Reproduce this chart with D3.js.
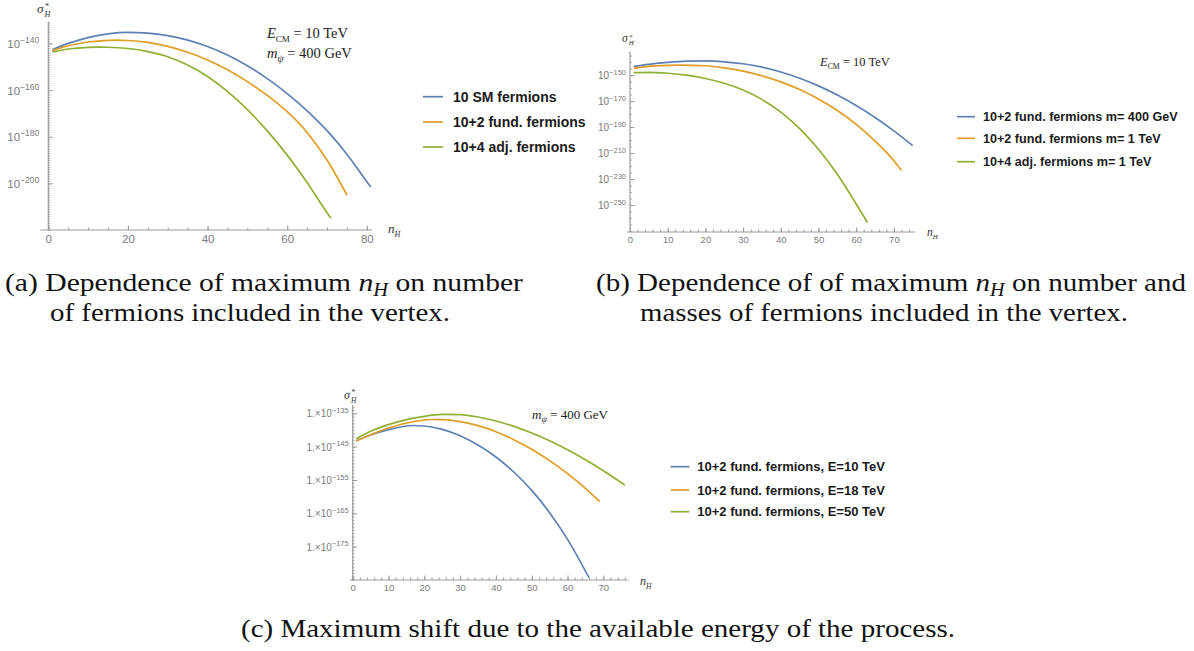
<!DOCTYPE html>
<html><head><meta charset="utf-8">
<script src="https://cdn.jsdelivr.net/npm/d3@7"></script>
<style>body{margin:0;background:#fff}svg{display:block}</style>
</head><body>
<svg id="c" width="1194" height="651"></svg>
<script>
// ---------------- DATA (values are log10 of sigma*_H) ----------------
const seriesColors = ["#5E81B5", "#E19C24", "#8FB032"];

// Panel (a)
const aLegend = ["10 SM fermions", "10+2 fund. fermions", "10+4 adj. fermions"];
const aN_sm   = [1, 5, 10, 15, 20, 25, 30, 35, 40, 45, 50, 55, 60, 65, 70, 75, 80, 81];
const aLog_sm = [-142.7, -140.0, -137.5, -135.9, -135.3, -135.6, -136.7, -138.6, -141.3, -145.0, -149.6, -155.1, -161.5, -168.9, -177.4, -187.5, -199.3, -201.6];
const aN_fund   = [1, 5, 10, 15, 17, 20, 25, 30, 35, 40, 45, 50, 55, 60, 65, 70, 75];
const aLog_fund = [-143.1, -141.0, -139.4, -138.7, -138.6, -138.75, -139.6, -141.3, -143.8, -147.1, -151.3, -156.4, -162.3, -169.3, -178.2, -190.0, -205.0];
const aN_adj   = [1, 5, 10, 13, 15, 20, 25, 30, 35, 40, 45, 50, 55, 60, 65, 70, 71];
const aLog_adj = [-143.7, -142.4, -141.7, -141.6, -141.65, -142.2, -143.5, -145.7, -149.3, -154.2, -160.6, -168.4, -177.5, -187.9, -199.6, -212.6, -215.0];
const aXTicks = [0, 20, 40, 60, 80];
const aYTicks = [-140, -160, -180, -200];

// Panel (b)
const bLegend = ["10+2 fund. fermions m= 400 GeV", "10+2 fund. fermions m= 1 TeV", "10+4 adj. fermions m= 1 TeV"];
const bN_fund400   = [1, 5, 10, 15, 20, 25, 30, 35, 40, 45, 50, 55, 60, 65, 70, 75];
const bLog_fund400 = [-143.3, -141.7, -140.2, -139.3, -139.1, -139.8, -141.3, -143.9, -147.6, -152.4, -158.3, -165.3, -173.4, -182.6, -192.9, -204.3];
const bN_fund1   = [1, 5, 10, 13, 20, 25, 30, 35, 40, 45, 50, 55, 60, 65, 70, 72];
const bLog_fund1 = [-144.9, -143.3, -142.5, -142.3, -142.8, -144.4, -146.9, -150.5, -155.2, -161.1, -168.4, -177.3, -188.0, -200.8, -216.0, -223.5];
const bN_adj1   = [1, 5, 10, 15, 20, 25, 30, 35, 40, 45, 50, 55, 60, 63];
const bLog_adj1 = [-148.1, -147.9, -148.6, -150.1, -152.6, -156.3, -161.5, -168.7, -178.5, -191.2, -207.1, -226.4, -249.2, -263.5];
const bXTicks = [0, 10, 20, 30, 40, 50, 60, 70];
const bYTicks = [-150, -170, -190, -210, -230, -250];

// Panel (c)
const cLegend = ["10+2 fund. fermions, E=10 TeV", "10+2 fund. fermions, E=18 TeV", "10+2 fund. fermions, E=50 TeV"];
const cN_E10   = [1, 5, 10, 15, 17, 20, 25, 30, 35, 40, 45, 50, 55, 60, 66];
const cLog_E10 = [-143.2, -141.5, -139.9, -138.8, -138.65, -138.8, -139.8, -141.7, -144.5, -148.1, -152.6, -158.1, -164.8, -172.8, -184.3];
const cN_E18   = [1, 5, 10, 15, 20, 22, 25, 30, 35, 40, 45, 50, 55, 60, 65, 69];
const cLog_E18 = [-143.3, -141.4, -139.4, -137.9, -137.0, -136.85, -136.9, -137.5, -138.7, -140.5, -142.9, -145.8, -149.2, -153.1, -157.5, -161.5];
const cN_E50   = [1, 5, 10, 15, 20, 25, 30, 35, 40, 45, 50, 55, 60, 65, 70, 76];
const cLog_E50 = [-142.6, -140.4, -138.4, -136.9, -135.9, -135.3, -135.4, -136.1, -137.3, -138.9, -140.9, -143.2, -145.9, -148.9, -152.2, -156.5];
const cXTicks = [0, 10, 20, 30, 40, 50, 60, 70];
const cYTicks = [-135, -145, -155, -165, -175];

// ---------------- DRAWING ----------------
const svg = d3.select("#c");
const SANS = "'Liberation Sans', Arial, sans-serif";
const SERIF = "'Liberation Serif', 'Times New Roman', serif";
const AXIS = "#9a9a9a", LABEL = "#7a7a7a";

function panel(cfg) {
  const g = svg.append("g");
  const x = d3.scaleLinear().domain(cfg.xDomain).range(cfg.xRange);
  const y = d3.scaleLinear().domain(cfg.yDomain).range(cfg.yRange);
  const yBase = cfg.yRange[0], xBase = x(0);

  const xMinor = d3.range(cfg.xDomain[0], cfg.xDomain[1], cfg.xMinorStep);
  g.append("g").attr("transform", `translate(0,${yBase})`)
    .call(d3.axisBottom(x).tickValues(xMinor).tickSize(-2.5).tickSizeOuter(0).tickFormat(""))
    .call(s => { s.select(".domain").remove(); s.selectAll("line").attr("stroke", AXIS); });
  g.append("g").attr("transform", `translate(0,${yBase})`)
    .call(d3.axisBottom(x).tickValues(cfg.xTicks).tickSize(-4.5).tickSizeOuter(0).tickPadding(cfg.xLabPad)
      .tickFormat(d3.format("d")))
    .call(s => {
      s.select(".domain").remove();
      s.selectAll("line").attr("stroke", AXIS);
      s.selectAll("text").attr("fill", LABEL).attr("font-family", SANS).attr("font-size", cfg.xFont);
    });

  const yMinor = d3.range(Math.ceil(cfg.yDomain[0]), cfg.yDomain[1], cfg.yMinorStep);
  g.append("g").attr("transform", `translate(${xBase},0)`)
    .call(d3.axisLeft(y).tickValues(yMinor).tickSize(-2).tickSizeOuter(0).tickFormat(""))
    .call(s => { s.select(".domain").remove(); s.selectAll("line").attr("stroke", AXIS).attr("stroke-width", 0.8); });
  const yAx = g.append("g").attr("transform", `translate(${xBase},0)`)
    .call(d3.axisLeft(y).tickValues(cfg.yTicks).tickSize(-4.5).tickSizeOuter(0).tickPadding(cfg.yLabGap)
      .tickFormat(""))
    .call(s => { s.select(".domain").remove(); s.selectAll("line").attr("stroke", AXIS); });
  yAx.selectAll(".tick text").each(function(d) {
    const t = d3.select(this).attr("fill", LABEL).attr("font-family", SANS)
      .attr("font-size", cfg.yFont).attr("dy", null).attr("y", 0)
      .attr("transform", `translate(0,${cfg.yFont * 0.36})`);
    t.text(null);
    t.append("tspan").text(cfg.yPrefix);
    t.append("tspan").attr("font-size", cfg.ySupFont).attr("dy", -cfg.yFont * 0.45).text("\u2212" + (-d));
  });

  g.append("line").attr("x1", xBase - cfg.xPadLeft).attr("x2", cfg.xRange[1])
    .attr("y1", yBase).attr("y2", yBase).attr("stroke", AXIS).attr("stroke-width", 1.2);
  g.append("line").attr("x1", xBase).attr("x2", xBase)
    .attr("y1", yBase).attr("y2", cfg.yRange[1]).attr("stroke", AXIS).attr("stroke-width", 1.2);

  const line = d3.line().x(d => x(d[0])).y(d => y(d[1])).curve(d3.curveMonotoneX);
  cfg.series.forEach((s, i) => {
    g.append("path").datum(d3.zip(s.n, s.v)).attr("d", line)
      .attr("fill", "none").attr("stroke", seriesColors[i]).attr("stroke-width", 1.7)
      .attr("stroke-linejoin", "round");
  });

  cfg.legend.forEach((lab, i) => {
    const ly = cfg.legY[i];
    g.append("line").attr("x1", cfg.legX).attr("x2", cfg.legX + cfg.legLen)
      .attr("y1", ly).attr("y2", ly).attr("stroke", seriesColors[i]).attr("stroke-width", 1.7);
    g.append("text").attr("x", cfg.legX + cfg.legLen + cfg.legGap).attr("y", ly + cfg.legFont * 0.36)
      .attr("font-family", SANS).attr("font-weight", "bold").attr("font-size", cfg.legFont)
      .attr("fill", "#1a1a1a").text(lab);
  });

  const sx = cfg.sigma[0], sy = cfg.sigma[1];
  g.append("text").attr("x", sx).attr("y", sy).attr("font-family", SERIF).attr("font-style", "italic")
    .attr("font-size", cfg.sigmaFont).attr("fill", "#333").text("σ");
  g.append("text").attr("x", sx + cfg.sigmaFont * 0.62).attr("y", sy - cfg.sigmaFont * 0.3).attr("font-family", SERIF)
    .attr("font-size", cfg.sigmaFont * 0.62).attr("fill", "#333").text("*");
  g.append("text").attr("x", sx + cfg.sigmaFont * 0.58).attr("y", sy + cfg.sigmaFont * 0.3).attr("font-family", SERIF)
    .attr("font-style", "italic").attr("font-size", cfg.sigmaFont * 0.62).attr("fill", "#333").text("H");
  const nx = cfg.nLab[0], ny = cfg.nLab[1];
  g.append("text").attr("x", nx).attr("y", ny).attr("font-family", SERIF).attr("font-style", "italic")
    .attr("font-size", cfg.sigmaFont).attr("fill", "#333").text("n");
  g.append("text").attr("x", nx + cfg.sigmaFont * 0.5).attr("y", ny + cfg.sigmaFont * 0.3).attr("font-family", SERIF)
    .attr("font-style", "italic").attr("font-size", cfg.sigmaFont * 0.62).attr("fill", "#333").text("H");

  cfg.notes.forEach(nt => {
    const t = g.append("text").attr("x", nt.x).attr("y", nt.y).attr("font-family", SERIF)
      .attr("font-size", nt.size).attr("fill", "#222");
    if (nt.kind === "E") {
      t.append("tspan").attr("font-style", "italic").text("E");
      t.append("tspan").attr("font-size", nt.size * 0.62).attr("dy", nt.size * 0.25).text("CM");
      t.append("tspan").attr("dy", -nt.size * 0.25).text(" = 10 TeV");
    } else {
      t.append("tspan").attr("font-style", "italic").text("m");
      t.append("tspan").attr("font-style", "italic").attr("font-size", nt.size * 0.68).attr("dy", nt.size * 0.25).text("ψ");
      t.append("tspan").attr("dy", -nt.size * 0.25).text(" = 400 GeV");
    }
  });
}

panel({
  xDomain: [0, 81.3], xRange: [48.3, 372], yDomain: [-220, -130.7], yRange: [230, 21.7],
  xTicks: aXTicks, xMinorStep: 5, yTicks: aYTicks, yMinorStep: 1,
  xFont: 11.5, xLabPad: 5, yFont: 11.5, ySupFont: 8.5, yLabGap: 9, yPrefix: "10", xPadLeft: 8,
  series: [{n: aN_sm, v: aLog_sm}, {n: aN_fund, v: aLog_fund}, {n: aN_adj, v: aLog_adj}],
  legend: aLegend, legX: 423, legLen: 20, legGap: 10, legY: [96.7, 122, 147], legFont: 14,
  sigma: [37, 13], sigmaFont: 13, nLab: [388, 233],
  notes: [{kind: "E", x: 267, y: 38, size: 14.5}, {kind: "m", x: 267, y: 58, size: 14.5}]
});

panel({
  xDomain: [0, 75.6], xRange: [630, 915], yDomain: [-270.8, -132], yRange: [232, 51.7],
  xTicks: bXTicks, xMinorStep: 2, yTicks: bYTicks, yMinorStep: 5,
  xFont: 9.5, xLabPad: 4, yFont: 10, ySupFont: 7.5, yLabGap: 4, yPrefix: "10", xPadLeft: 3,
  series: [{n: bN_fund400, v: bLog_fund400}, {n: bN_fund1, v: bLog_fund1}, {n: bN_adj1, v: bLog_adj1}],
  legend: bLegend, legX: 957, legLen: 18, legGap: 8, legY: [116.7, 138.3, 161.7], legFont: 12.6,
  sigma: [622, 42], sigmaFont: 11.5, nLab: [927, 236],
  notes: [{kind: "E", x: 820, y: 66, size: 12.5}]
});

panel({
  xDomain: [0, 77], xRange: [352.7, 628.4], yDomain: [-185, -132.5], yRange: [580, 405],
  xTicks: cXTicks, xMinorStep: 2, yTicks: cYTicks, yMinorStep: 1,
  xFont: 9.5, xLabPad: 4, yFont: 10, ySupFont: 7.5, yLabGap: 4, yPrefix: "1.\u00d710", xPadLeft: 3,
  series: [{n: cN_E10, v: cLog_E10}, {n: cN_E18, v: cLog_E18}, {n: cN_E50, v: cLog_E50}],
  legend: cLegend, legX: 670.7, legLen: 18.6, legGap: 8, legY: [466.7, 490, 511.7], legFont: 13,
  sigma: [344, 399], sigmaFont: 12, nLab: [640, 585],
  notes: [{kind: "m", x: 532, y: 419, size: 13}]
});

// ---------------- CAPTIONS ----------------
const captions = [
  {x: 5, y: 291, w: 518, parts: ["(a) Dependence of maximum ", "n", "H", " on number"]},
  {x: 50, y: 321, w: 400, parts: ["of fermions included in the vertex."]},
  {x: 596, y: 291, w: 590, parts: ["(b) Dependence of of maximum ", "n", "H", " on number and"]},
  {x: 640, y: 321, w: 488, parts: ["masses of fermions included in the vertex."]},
  {x: 241, y: 637, w: 714, parts: ["(c) Maximum shift due to the available energy of the process."]}
];
captions.forEach(c => {
  const t = svg.append("text").attr("x", c.x).attr("y", c.y).attr("font-family", SERIF)
    .attr("font-size", 26).attr("fill", "#111")
    .attr("textLength", c.w).attr("lengthAdjust", "spacingAndGlyphs");
  if (c.parts.length === 1) { t.text(c.parts[0]); return; }
  t.append("tspan").text(c.parts[0]);
  t.append("tspan").attr("font-style", "italic").text(c.parts[1]);
  t.append("tspan").attr("font-style", "italic").attr("font-size", 18).attr("dy", 5).text(c.parts[2]);
  t.append("tspan").attr("dy", -5).text(c.parts[3]);
});
</script>
</body></html>
